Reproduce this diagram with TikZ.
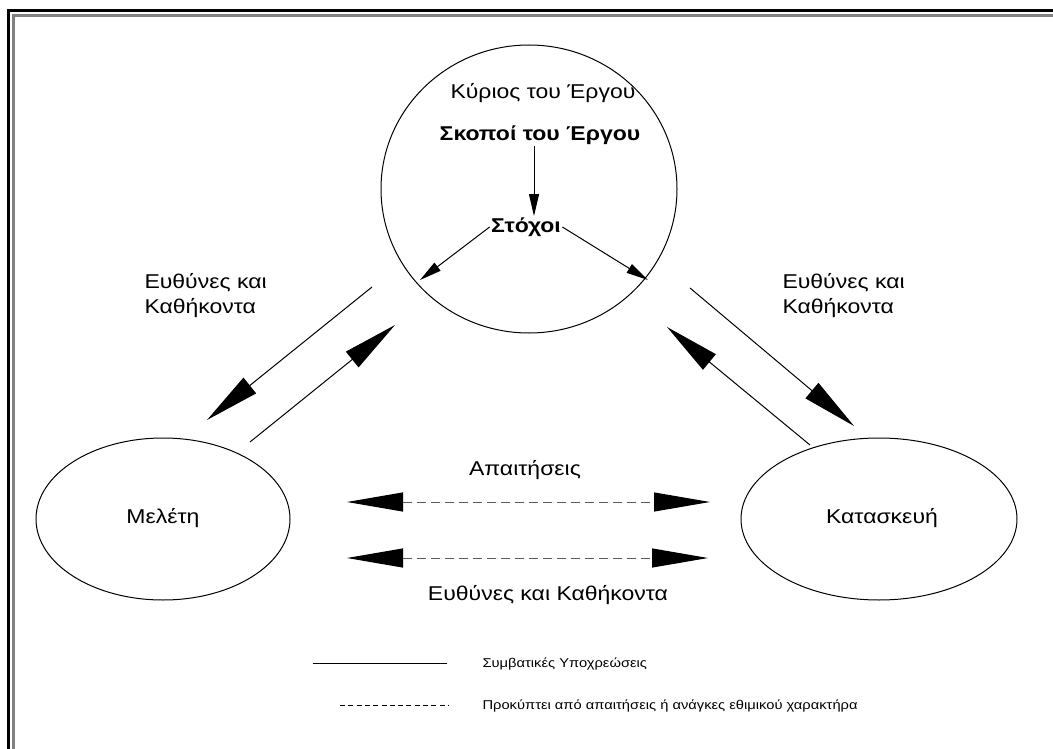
\documentclass[tikz,border=0pt]{standalone}
\usepackage{fontspec}
\setmainfont[FakeStretch=1.15]{Liberation Sans}
\usetikzlibrary{positioning, arrows.meta, shapes.geometric}
\definecolor{framegrey}{RGB}{130,130,130}
\definecolor{dashgrey}{RGB}{90,90,90}

\begin{document}
\begin{tikzpicture}[x=1pt, y=-1pt,
        line width=1pt,
        every node/.style={font=\fontsize{20}{25}\selectfont, inner sep=1pt},
        party/.style={ellipse, draw, line width=1pt, minimum width=254pt, minimum height=162pt},
        owner/.style={ellipse, draw, line width=1pt, minimum width=296pt, minimum height=288pt},
        duty/.style={-{Triangle[length=55pt, width=20pt]}, line width=1pt},
        small/.style={-{Triangle[length=22pt, width=10pt]}, line width=1pt},
        need/.style={{Triangle[length=56pt, width=19pt, color=black]}-{Triangle[length=56pt, width=19pt, color=black]}, dashgrey, dash pattern=on 9pt off 5pt},
        lbl/.style={align=left, anchor=west},
        legend/.style={font=\fontsize{12.8}{15}\selectfont, anchor=west}
    ]
        \useasboundingbox (0,0) rectangle (1053,749);
        \fill[white] (0,0) rectangle (1053,749);
        % Frame
        \begin{scope}
            \clip (0,0) rectangle (1053,749);
            \draw[line width=3pt] (8,10.5) rectangle (1100,800);
            \draw[framegrey, line width=3pt] (13.5,15.5) rectangle (1095,795);
        \end{scope}

        % Nodes
        \node[owner] (owner) at (529,189) {};
        \node (ownerlbl) at (543,93) {Κύριος του Έργου};
        \node (aims) at (540,135) {\textbf{Σκοποί του Έργου}};
        \node (goals) at (526,227) {\textbf{Στόχοι}};
        \node[party] (study) at (163,519) {};
        \node (studylbl) at (163,518) {Μελέτη};
        \node[party, minimum width=276pt] (build) at (879,519) {};
        \node (buildlbl) at (882,518) {Κατασκευή};

        \node[lbl] (dutyL) at (143,296) {Ευθύνες και\\Καθήκοντα};
        \node[lbl] (dutyR) at (781,296) {Ευθύνες και\\Καθήκοντα};
        \node (needs) at (525,470) {Απαιτήσεις};
        \node (duties) at (548,595) {Ευθύνες και Καθήκοντα};

        % Arrow ends
        \coordinate (goalL) at (420,280);
        \coordinate (goalR) at (648,280);
        \coordinate (downLs) at (372,287);
        \coordinate (downLe) at (207,420);
        \coordinate (upLs) at (250,442);
        \coordinate (upLe) at (395,325);
        \coordinate (downRs) at (690,288);
        \coordinate (downRe) at (854,426);
        \coordinate (upRs) at (810,445);
        \coordinate (upRe) at (667,327);
        \coordinate (needA) at (347,502);
        \coordinate (needB) at (710,502);
        \coordinate (dutyA) at (347,558);
        \coordinate (dutyB) at (708,558);

        % Connections
        \draw[small] ([xshift=-6pt]aims.south) -- ([xshift=8pt]goals.north);
        \draw[small] (goals.west) -- (goalL);
        \draw[small] (goals.east) -- (goalR);
        \draw[duty] (downLs) -- (downLe);
        \draw[duty] (upLs) -- (upLe);
        \draw[duty] (downRs) -- (downRe);
        \draw[duty] (upRs) -- (upRe);
        \draw[need] (needA) -- (needB);
        \draw[need] (dutyA) -- (dutyB);

        % Legend
        \coordinate (solidA) at (313,663);
        \coordinate (solidB) at (447,663);
        \coordinate (dashA) at (340,705);
        \coordinate (dashB) at (448,705);
        \draw (solidA) -- (solidB);
        \draw[dash pattern=on 5pt off 3.3pt] (dashA) -- (dashB);
        \node[legend] (solidlbl) at (481,664) {Συμβατικές Υποχρεώσεις};
        \node[legend] (dashlbl) at (481,706) {Προκύπτει από απαιτήσεις ή ανάγκες εθιμικού χαρακτήρα};
    \end{tikzpicture}
\end{document}
